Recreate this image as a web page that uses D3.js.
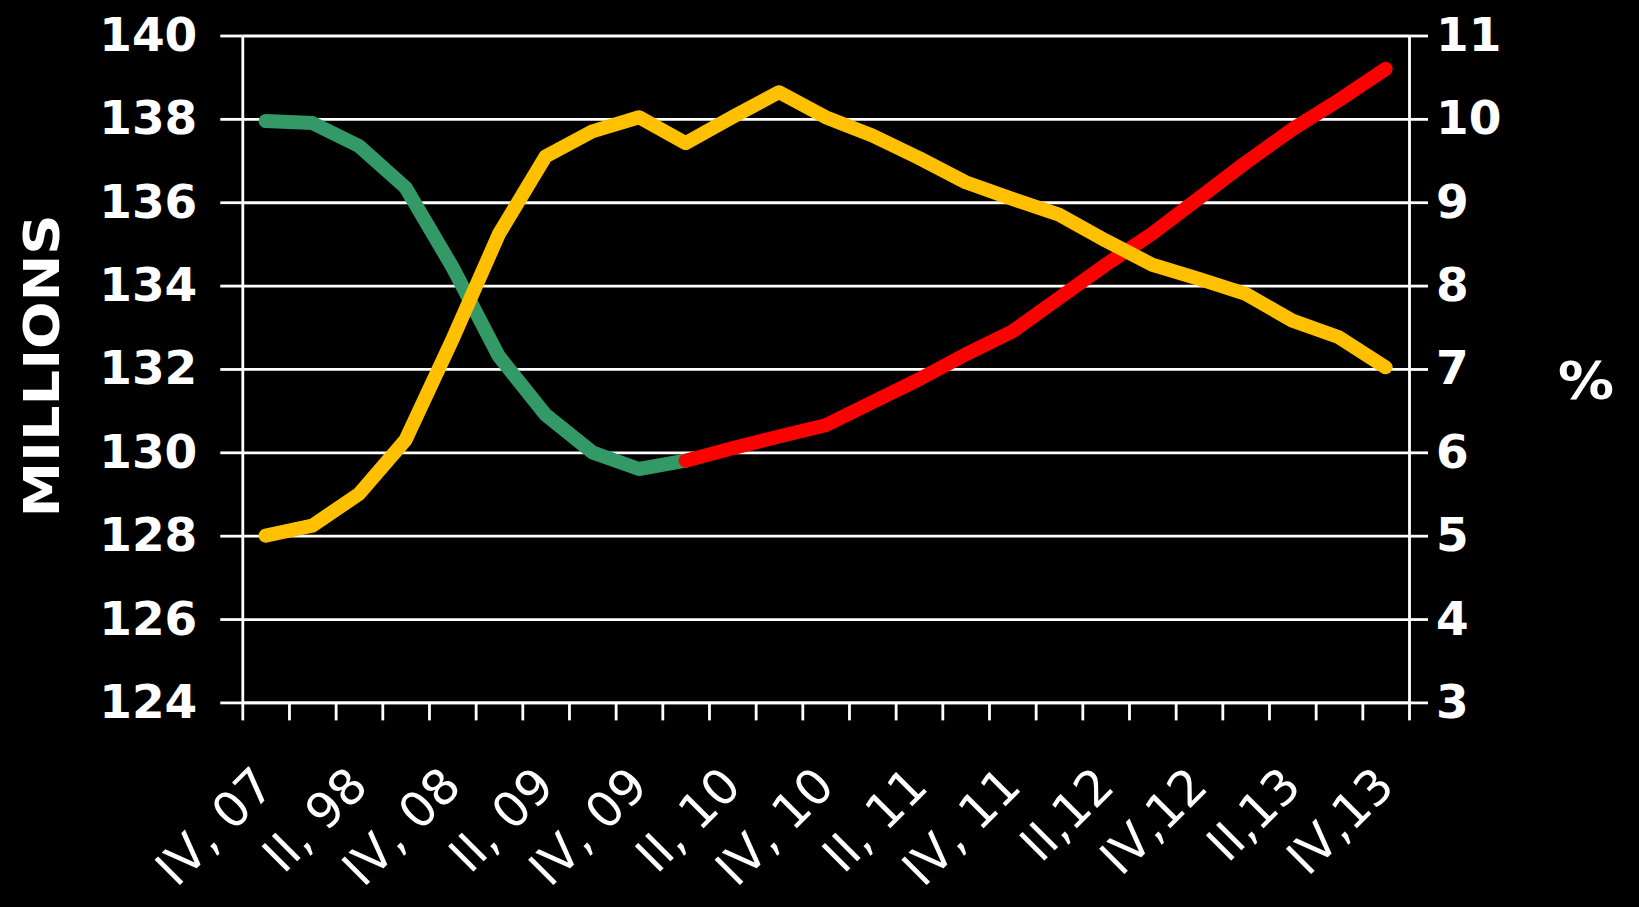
<!DOCTYPE html>
<html>
<head>
<meta charset="utf-8">
<title>Employment and unemployment</title>
<script src="https://d3js.org/d3.v7.min.js"></script>
<style>
  html, body { margin: 0; padding: 0; background: #000; }
  svg { display: block; }
</style>
</head>
<body>
<svg></svg>
<script>
// quarters, IV 2007 .. IV 2013 (every other one is labelled)
const quarters = ['IV, 07','I, 08','II, 98','III, 08','IV, 08','I, 09','II, 09','III, 09','IV, 09',
  'I, 10','II, 10','III, 10','IV, 10','I, 11','II, 11','III, 11','IV, 11',
  'I,12','II,12','III,12','IV,12','I,13','II,13','III,13','IV,13'];

// employment, millions (actual)
const employed = [137.95, 137.9, 137.35, 136.35, 134.45, 132.3, 130.9, 130.0, 129.6, 129.8];
// employment, millions (projection, starts at the last actual quarter)
const projected = [129.8, 130.1, 130.38, 130.65, 131.2, 131.75, 132.35, 132.9, 133.7,
  134.5, 135.25, 136.1, 136.95, 137.75, 138.45, 139.2];
// unemployment rate, %
const unemployment = [5.0, 5.12, 5.5, 6.15, 7.35, 8.62, 9.55, 9.85, 10.02, 9.71, 10.02, 10.32,
  10.02, 9.8, 9.53, 9.24, 9.04, 8.85, 8.54, 8.25, 8.08, 7.9, 7.58, 7.38, 7.02];

const leftTicks = [124, 126, 128, 130, 132, 134, 136, 138, 140];
const rightTicks = [3, 4, 5, 6, 7, 8, 9, 10, 11];

const W = 1639, H = 907;
const x0 = 242.3, x1 = 1409, yTop = 35.5, yBot = 702.4;
const font = 'Verdana, "DejaVu Sans", sans-serif';

const svg = d3.select('svg').attr('width', W).attr('height', H);
svg.append('rect').attr('width', W).attr('height', H).attr('fill', '#000');

const x = d3.scaleBand().domain(quarters).range([x0, x1]).padding(0);
const xEdge = d3.scaleLinear().domain([0, quarters.length]).range([x0, x1]);
const yL = d3.scaleLinear().domain([124, 140]).range([yBot, yTop]);
const yR = d3.scaleLinear().domain([3, 11]).range([yBot, yTop]);
const cx = q => x(q) + x.bandwidth() / 2;

function whiteAxis(g) {
  g.selectAll('path, line').attr('stroke', '#fff').attr('stroke-width', 2.8);
  g.selectAll('text').attr('fill', '#fff').attr('font-family', font);
}

// gridlines
svg.append('g')
  .attr('transform', `translate(${x0},0)`)
  .call(d3.axisRight(yL).tickValues(leftTicks).tickSize(x1 - x0).tickFormat(''))
  .call(g => g.select('.domain').remove())
  .call(whiteAxis);

// left axis
svg.append('g')
  .attr('transform', `translate(${x0},0)`)
  .call(d3.axisLeft(yL).tickValues(leftTicks).tickSizeInner(22).tickSizeOuter(0).tickPadding(23))
  .call(whiteAxis)
  .call(g => g.selectAll('text').attr('font-size', 47).attr('font-weight', 'bold'));

// right axis
svg.append('g')
  .attr('transform', `translate(${x1},0)`)
  .call(d3.axisRight(yR).tickValues(rightTicks).tickSizeInner(19).tickSizeOuter(0).tickPadding(8))
  .call(whiteAxis)
  .call(g => g.selectAll('text').attr('font-size', 47).attr('font-weight', 'bold'));

// bottom tick marks between categories
svg.append('g')
  .attr('transform', `translate(0,${yBot})`)
  .call(d3.axisBottom(xEdge).tickValues(d3.range(quarters.length + 1)).tickSize(18).tickSizeOuter(0).tickFormat(''))
  .call(whiteAxis);

// bottom labels
svg.append('g')
  .attr('transform', `translate(0,${yBot})`)
  .call(d3.axisBottom(x).tickValues(quarters.filter((q, i) => i % 2 === 0)).tickSize(0))
  .call(g => g.select('.domain').remove())
  .call(whiteAxis)
  .call(g => g.selectAll('text')
    .attr('font-size', 49)
    .attr('text-anchor', 'end')
    .attr('x', 0).attr('y', 0).attr('dy', 0)
    .attr('transform', 'translate(11,86) rotate(-45)'));

// axis titles
svg.append('text')
  .attr('transform', 'translate(59,366) rotate(-90)')
  .attr('text-anchor', 'middle')
  .attr('fill', '#fff')
  .attr('font-family', font)
  .attr('font-weight', 'bold')
  .attr('font-size', 50)
  .attr('textLength', 303)
  .attr('lengthAdjust', 'spacingAndGlyphs')
  .text('MILLIONS');

svg.append('text')
  .attr('x', 1586).attr('y', 399)
  .attr('text-anchor', 'middle')
  .attr('fill', '#fff')
  .attr('font-family', font)
  .attr('font-weight', 'bold')
  .attr('font-size', 52)
  .attr('textLength', 56)
  .attr('lengthAdjust', 'spacingAndGlyphs')
  .text('%');

// lines
const plot = svg.append('g');
const lineL = d3.line().x(d => cx(d.q)).y(d => yL(d.v));
const lineR = d3.line().x(d => cx(d.q)).y(d => yR(d.v));

const greenPts = employed.map((v, i) => ({ q: quarters[i], v }));
const redPts = projected.map((v, i) => ({ q: quarters[i + employed.length - 1], v }));
const yellowPts = unemployment.map((v, i) => ({ q: quarters[i], v }));

[[greenPts, lineL, '#339966'], [redPts, lineL, '#ff0000'], [yellowPts, lineR, '#ffc000']]
  .forEach(([pts, gen, col]) => {
    plot.append('path')
      .datum(pts)
      .attr('d', gen)
      .attr('fill', 'none')
      .attr('stroke', col)
      .attr('stroke-width', 14)
      .attr('stroke-linecap', 'round')
      .attr('stroke-linejoin', 'round');
  });
</script>
</body>
</html>
